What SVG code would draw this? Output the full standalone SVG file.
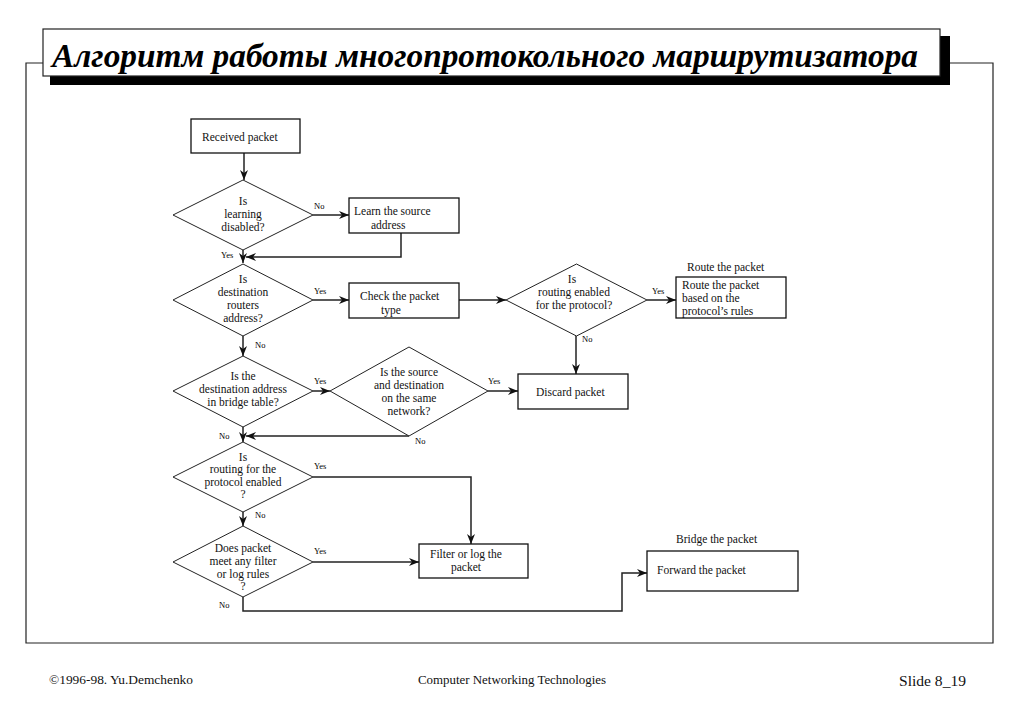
<svg xmlns="http://www.w3.org/2000/svg" width="1023" height="708" viewBox="0 0 1023 708">
<defs>
<marker id="arr" markerWidth="11" markerHeight="8" refX="10" refY="4" orient="auto" markerUnits="userSpaceOnUse">
<path d="M0,0 L10,4 L0,8 L3,4 z" fill="#111"/>
</marker>
<style>
.box{fill:#fff;stroke:#111;stroke-width:1.3}
.dia{fill:#fff;stroke:#222;stroke-width:1}
.t{font-family:"Liberation Serif","Times New Roman",serif;font-size:11.5px;fill:#111}
.c{text-anchor:middle}
.lab{font-family:"Liberation Serif","Times New Roman",serif;font-size:8.5px;fill:#000}
.con{fill:none;stroke:#222;stroke-width:1.5;marker-end:url(#arr)}
.foot{font-family:"Liberation Serif","Times New Roman",serif;fill:#111}
</style>
</defs>
<rect width="1023" height="708" fill="#fff"/>
<g id="frame">
<path d="M43,63 H26 V643 H993 V63 H950" fill="none" stroke="#222" stroke-width="1.2"/>
</g>
<g id="title">
<rect x="50" y="36" width="900" height="49" fill="#000"/>
<rect x="43" y="29" width="897" height="47" fill="#fff" stroke="#222" stroke-width="1.2"/>
<text x="52" y="67" font-family="Liberation Serif,serif" font-size="34" font-weight="bold" font-style="italic" textLength="866" lengthAdjust="spacingAndGlyphs" fill="#000">Алгоритм работы многопротокольного маршрутизатора</text>
</g>
<g id="connectors">
<path class="con" d="M244,153 V180"/>
<path class="con" d="M313,215 H349"/>
<path class="con" d="M401,233 V257 H246"/>
<path class="con" d="M243,250 V263"/>
<path class="con" d="M313,300 H349"/>
<path class="con" d="M459,300 H506"/>
<path class="con" d="M647,300 H676"/>
<path class="con" d="M576,336 V374"/>
<path class="con" d="M243,336 V356"/>
<path class="con" d="M313,391 H330"/>
<path class="con" d="M488,391 H518"/>
<path class="con" d="M409,436 H246"/>
<path class="con" d="M243,427 V442"/>
<path class="con" d="M313,477 H471 V544"/>
<path class="con" d="M243,512 V526"/>
<path class="con" d="M313,562 H419"/>
<path class="con" d="M243,597 V611 H622 V573 H647"/>
</g>
<g id="labels">
<text class="lab" x="314" y="209">No</text>
<text class="lab" x="221" y="258">Yes</text>
<text class="lab" x="314" y="294">Yes</text>
<text class="lab" x="652" y="294">Yes</text>
<text class="lab" x="582" y="342">No</text>
<text class="lab" x="255" y="348">No</text>
<text class="lab" x="314" y="384">Yes</text>
<text class="lab" x="488" y="384">Yes</text>
<text class="lab" x="415" y="444">No</text>
<text class="lab" x="219" y="439">No</text>
<text class="lab" x="314" y="469">Yes</text>
<text class="lab" x="255" y="518">No</text>
<text class="lab" x="314" y="554">Yes</text>
<text class="lab" x="219" y="608">No</text>
</g>
<g id="n-received">
<rect class="box" x="191" y="119" width="109" height="34"/>
<text class="t" x="202" y="141">Received packet</text>
</g>
<g id="n-learning">
<polygon class="dia" points="243,180 313,215 243,250 173,215"/>
<text class="t c" x="243" y="205">Is</text>
<text class="t c" x="243" y="218">learning</text>
<text class="t c" x="243" y="231">disabled?</text>
</g>
<g id="n-learn">
<rect class="box" x="349" y="198" width="110" height="35"/>
<text class="t" x="354" y="215">Learn the source</text>
<text class="t" x="371" y="229">address</text>
</g>
<g id="n-destrouter">
<polygon class="dia" points="243,264 313,300 243,336 173,300"/>
<text class="t c" x="243" y="283">Is</text>
<text class="t c" x="243" y="296">destination</text>
<text class="t c" x="243" y="309">routers</text>
<text class="t c" x="243" y="322">address?</text>
</g>
<g id="n-check">
<rect class="box" x="349" y="283" width="110" height="35"/>
<text class="t" x="360" y="300">Check the packet</text>
<text class="t" x="381" y="314">type</text>
</g>
<g id="n-routingenabled">
<polygon class="dia" points="576.5,264 647,300 576.5,336 506,300"/>
<text class="t c" x="572" y="283">Is</text>
<text class="t c" x="574" y="296">routing enabled</text>
<text class="t c" x="574" y="309">for the protocol?</text>
</g>
<g id="n-route">
<text class="t" x="687" y="271">Route the packet</text>
<rect class="box" x="676" y="277" width="110" height="41"/>
<text class="t" x="682" y="289">Route the packet</text>
<text class="t" x="682" y="302">based on the</text>
<text class="t" x="682" y="315">protocol’s  rules</text>
</g>
<g id="n-discard">
<rect class="box" x="518" y="374" width="110" height="35"/>
<text class="t" x="536" y="396">Discard packet</text>
</g>
<g id="n-bridgetable">
<polygon class="dia" points="243,356 313,391 243,427 173,391"/>
<text class="t c" x="243" y="380">Is the</text>
<text class="t c" x="243" y="393">destination address</text>
<text class="t c" x="243" y="406">in bridge table?</text>
</g>
<g id="n-samenet">
<polygon class="dia" points="409,347 488,391 409,436 330,391"/>
<text class="t c" x="409" y="376">Is the source</text>
<text class="t c" x="409" y="389">and destination</text>
<text class="t c" x="409" y="402">on the same</text>
<text class="t c" x="409" y="415">network?</text>
</g>
<g id="n-routingproto">
<polygon class="dia" points="243,442 313,477 243,512 173,477"/>
<text class="t c" x="243" y="461">Is</text>
<text class="t c" x="243" y="473">routing for the</text>
<text class="t c" x="243" y="486">protocol enabled</text>
<text class="t c" x="243" y="498">?</text>
</g>
<g id="n-filterrules">
<polygon class="dia" points="243,526 313,562 243,597 173,562"/>
<text class="t c" x="243" y="552">Does packet</text>
<text class="t c" x="243" y="565">meet any filter</text>
<text class="t c" x="243" y="578">or log rules</text>
<text class="t c" x="243" y="590">?</text>
</g>
<g id="n-filter">
<rect class="box" x="419" y="544" width="109" height="34"/>
<text class="t" x="430" y="558">Filter or log the</text>
<text class="t" x="451" y="571">packet</text>
</g>
<g id="n-forward">
<text class="t" x="676" y="543">Bridge the packet</text>
<rect class="box" x="647" y="551" width="151" height="40"/>
<text class="t" x="657" y="574">Forward the packet</text>
</g>
<g id="footer">
<text class="foot" x="49" y="684" font-size="12" textLength="144" lengthAdjust="spacingAndGlyphs">©1996-98. Yu.Demchenko</text>
<text class="foot" x="418" y="684" font-size="12" textLength="188" lengthAdjust="spacingAndGlyphs">Computer Networking Technologies</text>
<text class="foot" x="899" y="686" font-size="15" textLength="67" lengthAdjust="spacingAndGlyphs">Slide 8_19</text>
</g>
</svg>
